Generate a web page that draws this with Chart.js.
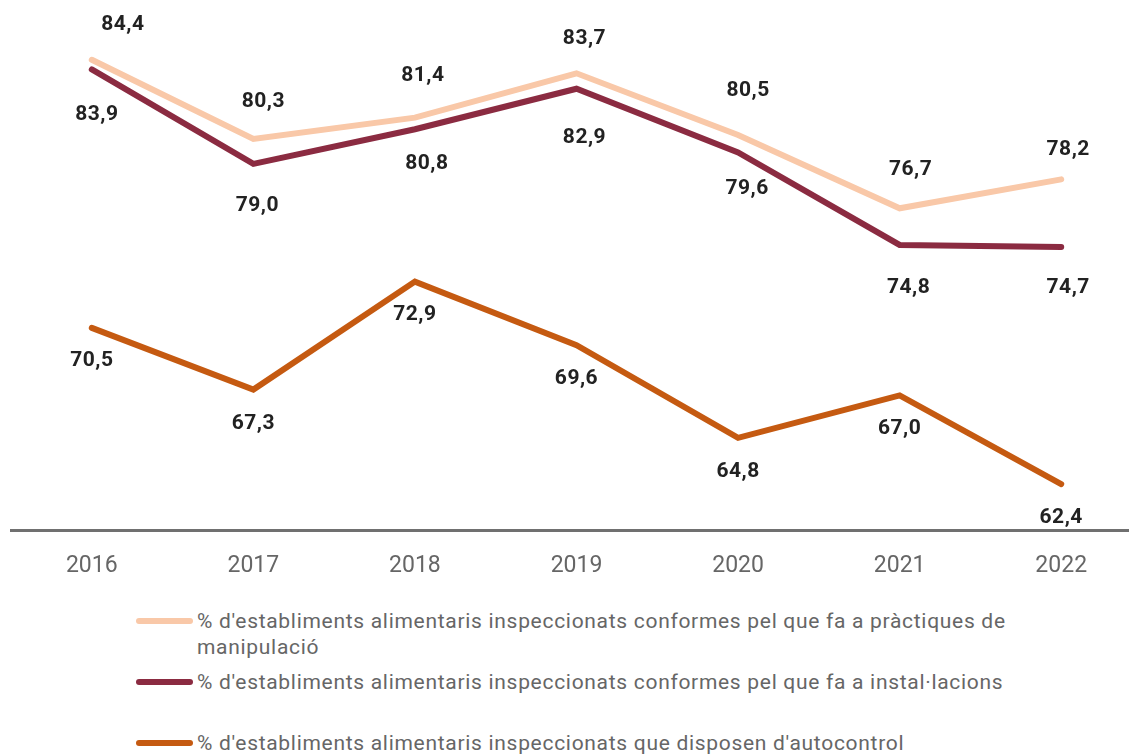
<!DOCTYPE html>
<html>
<head>
<meta charset="utf-8">
<script src="https://cdn.jsdelivr.net/npm/chart.js@4/dist/chart.umd.min.js"></script>
<style>
html,body{margin:0;padding:0;background:#fff;overflow:hidden;width:1129px;height:755px}
#wrap{position:absolute;left:0;top:0}
#legend{position:absolute;left:0;top:0;font-family:Roboto,sans-serif;font-size:21px;letter-spacing:0.7px;color:#666;line-height:26px}
.item{position:absolute;left:136px;display:flex;align-items:flex-start}
.sw{width:57px;height:6px;border-radius:3px;margin-top:10px;flex:none}
.tx{margin-left:4px;width:850px}
</style>
</head>
<body>
<div id="wrap"><canvas id="chart" width="1142" height="594"></canvas></div>
<div id="legend"></div>
<script>
// anys i series
const years=["2016","2017","2018","2019","2020","2021","2022"];
const manipulacio=[84.4,80.3,81.4,83.7,80.5,76.7,78.2];
const installacions=[83.9,79.0,80.8,82.9,79.6,74.8,74.7];
const autocontrol=[70.5,67.3,72.9,69.6,64.8,67.0,62.4];
const seriesNames=[
"% d'establiments alimentaris inspeccionats conformes pel que fa a pràctiques de manipulació",
"% d'establiments alimentaris inspeccionats conformes pel que fa a instal·lacions",
"% d'establiments alimentaris inspeccionats que disposen d'autocontrol"
];
const colors=["#f9c8a8","#8b2b41","#c55a11"];

// on va cada etiqueta respecte al punt
const labelDx=[[31,10,8,8,10,11,7],[5,4,12,8,9,9,7],[0,0,0,0,0,0,0]];
const labelDy=[[-35,-37,-42,-35,-44,-39,-30],[45,42,35,49,36,43,41],[33,34,33,34,34,33,34]];

const valueLabels={
id:"valueLabels",
afterDatasetsDraw(chart){
const ctx=chart.ctx;
ctx.save();
ctx.font="bold 21px Roboto, sans-serif";
ctx.letterSpacing="0.5px";
ctx.fillStyle="#222";
ctx.textAlign="center";
ctx.textBaseline="middle";
chart.data.datasets.forEach((ds,di)=>{
chart.getDatasetMeta(di).data.forEach((pt,i)=>{
const txt=ds.data[i].toFixed(1).replace(".",",");
ctx.fillText(txt,pt.x+labelDx[di][i],pt.y+labelDy[di][i]);
});
});
ctx.restore();
}
};

const mk=(data,i)=>({
label:seriesNames[i],data:data,borderColor:colors[i],backgroundColor:colors[i],
borderWidth:6,pointRadius:0,pointHoverRadius:0,tension:0,
borderCapStyle:"round",clip:false
});

new Chart(document.getElementById("chart"),{
type:"line",
data:{labels:years,datasets:[mk(manipulacio,0),mk(installacions,1),mk(autocontrol,2)]},
options:{
responsive:false,animation:false,devicePixelRatio:1,
layout:{padding:{left:11,top:0,right:0,bottom:0}},
plugins:{legend:{display:false},tooltip:{enabled:false}},
scales:{
x:{offset:true,grid:{display:false},
border:{display:true,color:"#707070",width:3},
ticks:{color:"#666",font:{family:"Roboto",size:23},padding:14}},
y:{display:false,min:60,max:87.5}
}
},
plugins:[valueLabels]
});

// llegenda
const legendTops=[608,669,730];
const lg=document.getElementById("legend");
seriesNames.forEach((n,i)=>{
const d=document.createElement("div");
d.className="item";
d.style.top=legendTops[i]+"px";
d.innerHTML=`<div class="sw" style="background:${colors[i]}"></div><div class="tx">${n}</div>`;
lg.appendChild(d);
});
</script>
</body>
</html>
